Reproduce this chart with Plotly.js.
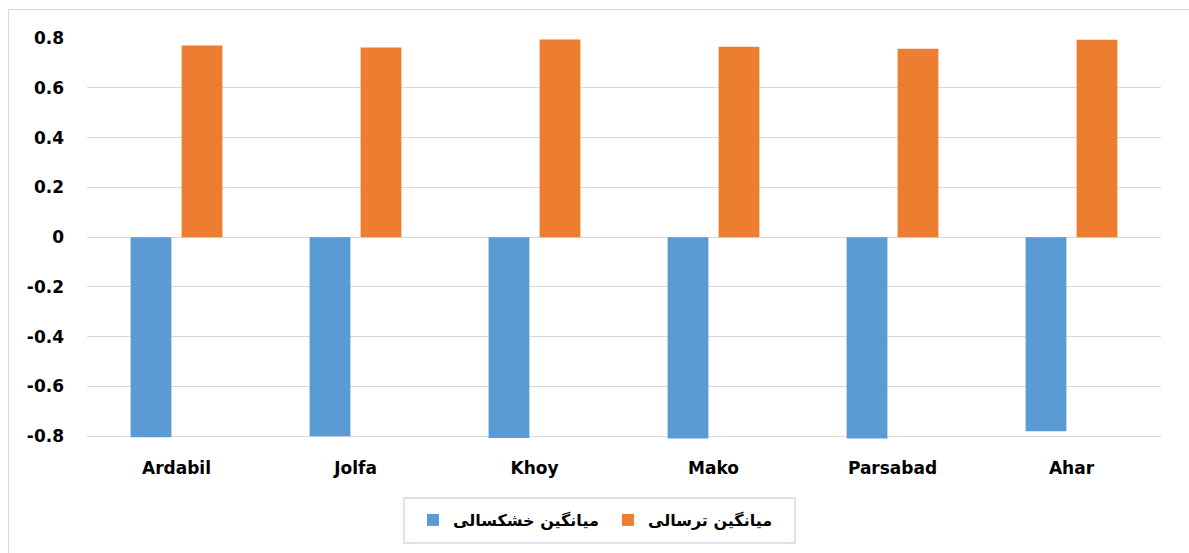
<!DOCTYPE html>
<html>
<head>
<meta charset="utf-8">
<script src="https://cdn.plot.ly/plotly-3.0.1.min.js"></script>
<style>
html,body{margin:0;padding:0;background:#fff;}
#chart{width:1189px;height:553px;position:relative;}
#frame{position:absolute;left:8px;top:9px;width:1200px;height:600px;border:1px solid #d9d9d9;pointer-events:none;}
</style>
</head>
<body>
<div id="chart"></div>
<div id="frame"></div>
<script>
const categories = ["Ardabil", "Jolfa", "Khoy", "Mako", "Parsabad", "Ahar"];
const droughtMean = [-0.804, -0.800, -0.807, -0.809, -0.809, -0.780];
const wetMean = [0.770, 0.762, 0.794, 0.765, 0.757, 0.793];
const yTicks = [-0.8, -0.6, -0.4, -0.2, 0, 0.2, 0.4, 0.6, 0.8];
const yTickText = ["-0.8", "-0.6", "-0.4", "-0.2", "0", "0.2", "0.4", "0.6", "0.8"];
const seriesNames = ["میانگین خشکسالی", "میانگین ترسالی"];

const traces = [
  {type: "bar", x: categories, y: droughtMean, name: seriesNames[0], marker: {color: "#5b9bd5"}},
  {type: "bar", x: categories, y: wetMean, name: seriesNames[1], marker: {color: "#ed7d31"}}
];

const tickFont = {size: 17, weight: "bold", family: "DejaVu Sans, sans-serif", color: "#000"};

const layout = {
  width: 1189, height: 553,
  margin: {l: 87, r: 28, t: 38, b: 113},
  paper_bgcolor: "#fff", plot_bgcolor: "#fff",
  barmode: "group", bargap: 0.43, bargroupgap: 0.2,
  font: {family: "DejaVu Sans, sans-serif", color: "#000"},
  xaxis: {
    showgrid: false, showline: false, zeroline: false,
    ticks: "", ticklabelstandoff: 16,
    tickfont: tickFont
  },
  yaxis: {
    range: [-0.815, 0.8], tickvals: yTicks, ticktext: yTickText,
    showgrid: true, gridcolor: "#d9d9d9", gridwidth: 1,
    zeroline: true, zerolinecolor: "#d9d9d9", zerolinewidth: 1,
    showline: false, ticks: "", ticklabelstandoff: 22,
    tickfont: tickFont
  },
  shapes: [{
    type: "rect", xref: "paper", yref: "paper",
    x0: 0.2952, x1: 0.6592, y0: -0.2562, y1: -0.1443,
    line: {color: "#dae3f0", width: 2}, fillcolor: "rgba(0,0,0,0)", layer: "below"
  }],
  showlegend: true,
  legend: {
    orientation: "h", x: 0.3035, xanchor: "left", y: -0.199, yanchor: "middle",
    borderwidth: 0, bgcolor: "rgba(0,0,0,0)",
    font: {size: 16, weight: "bold", family: "DejaVu Sans, sans-serif", color: "#000"},
    traceorder: "normal", entrywidth: 150, entrywidthmode: "pixels"
  }
};

Plotly.newPlot("chart", traces, layout, {displayModeBar: false, staticPlot: true});
</script>
</body>
</html>
